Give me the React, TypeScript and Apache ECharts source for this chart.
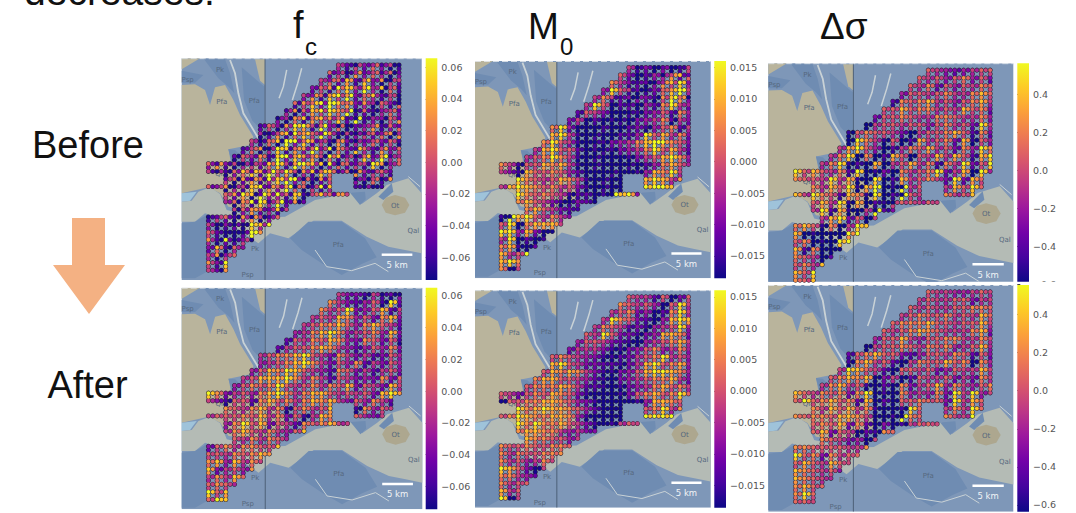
import React, { useEffect, useRef } from "react";
import * as echarts from "echarts";

// Colour bands: each digit of a grid row stands for one of these values.
const FC_BANDS = [-0.07, -0.058, -0.046, -0.034, -0.022, -0.008, 0.01, 0.03, 0.048, 0.065];
const M0_BANDS = [-0.018, -0.015, -0.012, -0.009, -0.006, -0.002, 0.002, 0.007, 0.011, 0.016];
const DS_BANDS = [-0.62, -0.5, -0.39, -0.28, -0.17, -0.04, 0.1, 0.25, 0.4, 0.556];

const FC_TICKS = [-0.06, -0.04, -0.02, 0, 0.02, 0.04, 0.06];
const M0_TICKS = [-0.015, -0.01, -0.005, 0, 0.005, 0.01, 0.015];
const DS_TICKS = [-0.6, -0.4, -0.2, 0, 0.2, 0.4];

// Street-crossing values (one digit per crossing)
const FC_BEFORE = [
  "...............52034150", "..............630425162", ".............5368263705", "............36798574851",
  "...........536797368250", "..........6769986374630", ".........17689975061352", "........047868761014362",
  "......16379956300235162", "......40589763715016374", ".....506899674163025361", "....1570986763974162536",
  "...26471897765983062714", "61350148957988906259736", "5016827569578681604162.", "..2671698590176..03507.",
  "637058926706198..1001..", "..679827968158675......", "..4679916172...........", "...5676285.............",
  "026170516..............", "50300989...............", "6200097................", "719030.................",
  "38163..................", "5736...................", "739....................", "527....................",
];
const M0_BEFORE = [
  "...............50302015", "..............630240582", ".............7531204893", "............49652036795",
  "...........575130317860", "..........5960210427954", ".........26530001346274", "........350201003457253",
  "......79400010023146725", "......89510000224968573", ".....796510013457899763", "....5896620101345796852",
  "...56797510000013568974", "75166878510000000247864", "5318667642000000148795.", "..9765687510000..89857.",
  "589876756310000..9998..", "..976765122010893......", "..7865310320...........", "...7865321.............",
  "108965753..............", "69078885...............", "9948300................", "590201.................",
  "78102..................", "8569...................", "897....................", "705....................",
];
const DS_BEFORE = [
  "...............65434566", "..............656467463", ".............6573646576", "............46656755786",
  "...........276785646785", "..........6686775658673", ".........36676557765574", "........056656646756395",
  "......16766530566786273", "......09751602856738164", ".....589640257685637497", "....5790702860658586289",
  "...57912080568572759369", "96865729013075679358094", "7665958109028567539386.", "..7586918901056..58696.",
  "859762871902065..7568..", "..685918021066565......", "..5928105023...........", "...5893605.............",
  "786170598..............", "80100099...............", "6701099................", "827000.................",
  "76502..................", "6758...................", "869....................", "768....................",
];
const FC_AFTER = [
  "...............53315020", "..............753246192", ".............7569346825", "............56587463783",
  "...........567786478652", "..........4578974567483", ".........26576874376361", "........256678754246473",
  "......56778965375352364", "......45678975364725364", ".....468798654276352563", "....5688897575265343736",
  "...46767965675768365385", "97356478975788656563897", "5316627867578785364752.", "..7657857167568..17465.",
  "566676857361587..6435..", "..479683652767855......", "..5786575468...........", "...6575764.............",
  "367577668..............", "66576787...............", "7848575................", "835647.................",
  "57586..................", "6764...................", "968....................", "698....................",
];
const M0_AFTER = [
  "...............65526036", "..............765640695", ".............5673402795", "............59763204898",
  "...........576523145694", "..........6596331348873", ".........46653210456785", "........355531134674574",
  "......67654311235679564", "......89653322135896784", ".....687875311346899874", "....7886654210345677853",
  "...67778752210134578675", "65367687631000136786796", "0667788764310000148876.", "..9789887642000..67957.",
  "679877887410000..9999..", "..979778653101565......", "..7887754533...........", "...8776645.............",
  "766766776..............", "75766777...............", "7564575................", "986305.................",
  "77542..................", "7566...................", "856....................", "905....................",
];
const DS_AFTER = [
  "...............65544565", "..............565566355", ".............6565566776", "............56766756586",
  "...........677786656685", "..........6567876555783", ".........46685466775575", "........056676576745684",
  "......26786632466576263", "......17856205766867074", ".....598652066563465585", "....6787803502655635375",
  "...57856102073568475467", "86576737901074547395945", "6967867280206676639586.", "..7586857100196..57596.",
  "767768875001076..7559..", "..676837203015665......", "..6836502176...........", "...7653405.............",
  "776666557..............", "96737566...............", "6865865................", "876563.................",
  "87654..................", "7866...................", "796....................", "665....................",
];

// Between-crossing values (the stretch east of and south of each crossing)
const FC_BEFORE_LINKS = [
  "...............41526301", "..............251736403", ".............4627183052", "............25168394061",
  "...........371859264150", "..........1583967240516", ".........40375869120463", "........306175482913057",
  "......25048719360247136", "......02716859401352607", ".....416093825071436250", "....2604817395062841735",
  "...05261938470615283946", "37104526819740362518047", "1403682957041863072541.", "..5027148936025..30614.",
  "250418273960514..1306..", "..527093418065274......", "..3061849205...........", "...0372416.............",
  "152047038..............", "30120847...............", "5100293................", "402150.................",
  "26041..................", "4052...................", "518....................", "406....................",
];
const M0_BEFORE_LINKS = [
  "...............41203015", "..............520134726", ".............6412037584", "............38510126894",
  "...........461203205973", "..........4850120316842", ".........15420010235163", "........240100102346042",
  "......68200010012035614", "......78400100113857462", ".....685300102346897652", "....4785510010234685741",
  "...45686400100002457863", "64055767400100010136753", "4207556531000100037684.", "..8654576400100..78746.",
  "478765645200100..8987..", "..865654011009872......", "..6754201210...........", "...6754210.............",
  "097854642..............", "58067774...............", "8837200................", "480100.................",
  "67001..................", "7458...................", "786....................", "604....................",
];
const DS_BEFORE_LINKS = [
  "...............54323455", "..............545356352", ".............5462535465", "............35545644675",
  "...........165674535674", "..........5575664547562", ".........25565446654463", "........045545535645284",
  "......05655420455675162", "......08640501745627053", ".....478530146574526386", "....4680601750547475178",
  "...46801070457461648258", "85754618002064568247083", "6554847008017456428275.", "..6475807900945..47585.",
  "748651760801954..6457..", "..574807010555454......", "..4817004912...........", "...4782504.............",
  "675060487..............", "70000078...............", "5600088................", "716000.................",
  "65401..................", "5647...................", "758....................", "657....................",
];
const FC_AFTER_LINKS = [
  "...............42204103", "..............642135081", ".............6458235714", "............45476352672",
  "...........456675367541", "..........3467863456372", ".........15465763265250", "........145567643135362",
  "......45667854264241253", "......34567864253614253", ".....357687543165241452", "....4577786464154232625",
  "...35656854564657254274", "86245367864677545452786", "4205516756467674253641.", "..6546746056457..06354.",
  "455565746250476..5324..", "..368572541656744......", "..4675464357...........", "...5464653.............",
  "256466557..............", "55465676...............", "6737464................", "724536.................",
  "46475..................", "5653...................", "857....................", "587....................",
];
const M0_AFTER_LINKS = [
  "...............54415025", "..............654530584", ".............4562301684", "............48652103787",
  "...........465412034583", "..........5485220237762", ".........35542100345674", "........244420023563463",
  "......56543200124568453", "......78542211024785673", ".....576764200235788763", "....6775543100234566742",
  "...56667641100023467564", "54256576520000025675685", "0556677653200000037765.", "..8678776531000..56846.",
  "568766776300000..8888..", "..868667542000454......", "..6776643422...........", "...7665534.............",
  "655655665..............", "64655666...............", "6453464................", "875204.................",
  "66431..................", "6455...................", "745....................", "804....................",
];
const DS_AFTER_LINKS = [
  "...............54433454", "..............454455244", ".............5454455665", "............45655645475",
  "...........566675545574", "..........5456765444672", ".........35574355664464", "........045565465634573",
  "......15675521355465152", "......06745104655756063", ".....487541055452354474", "....5676702401544524264",
  "...46745001062457364356", "75465626800063436284834", "5856756170105565528475.", "..6475746000085..46485.",
  "656657764000965..6448..", "..565726102004554......", "..5725401065...........", "...6542304.............",
  "665555446..............", "85626455...............", "5754754................", "765452.................",
  "76543..................", "6755...................", "685....................", "554....................",
];

// Base-map outlines, in one shared map coordinate system.
const TAN = "#b9b49c";
const BLUE = "#6f8cb2";
const GREY = "#b4bbb5";
const MAP_POLYGONS: any[] = [
  { fill: TAN, pts: [[20, 105], [60, 103], [90, 120], [105, 165], [120, 112], [150, 105], [175, 150], [195, 195], [235, 260], [225, 285], [160, 298], [172, 360], [280, 340], [340, 440], [250, 480], [160, 470], [135, 430], [100, 412], [20, 430]] },
  { fill: TAN, pts: [[20, 25], [75, 25], [20, 58]] },
  { fill: TAN, pts: [[240, 28], [270, 28], [270, 105], [255, 92]] },
  { fill: BLUE, pts: [[85, 25], [150, 28], [165, 70], [178, 130], [160, 110], [130, 85]] },
  { fill: BLUE, pts: [[200, 52], [268, 110], [268, 250], [232, 212], [207, 150]] },
  { fill: BLUE, pts: [[20, 62], [85, 75], [60, 98], [20, 98]] },
  { fill: BLUE, pts: [[160, 298], [180, 300], [200, 320], [172, 342]] },
  { fill: "#9fc3da", pts: [[20, 430], [65, 425], [45, 452], [20, 455]] },
  { fill: GREY, pts: [[20, 455], [50, 452], [70, 425], [105, 412], [135, 432], [155, 480], [250, 503], [330, 500], [420, 450], [530, 428], [560, 462], [605, 430], [635, 405], [700, 385], [740, 430], [740, 610], [690, 600], [640, 590], [575, 560], [500, 512], [415, 512], [340, 565], [285, 550], [250, 580], [150, 510], [90, 490], [60, 515], [20, 515]] },
  { fill: BLUE, pts: [[345, 565], [400, 515], [500, 515], [570, 565], [605, 622], [560, 642], [500, 675], [440, 640], [380, 600]] },
  { fill: BLUE, pts: [[20, 520], [60, 515], [95, 495], [105, 660], [60, 685], [20, 685]] },
  { fill: BLUE, pts: [[525, 428], [570, 425], [572, 448], [555, 465]] },
  { fill: BLUE, pts: [[610, 440], [650, 400], [655, 425], [625, 450]] },
  { fill: "#ada78f", pts: [[620, 465], [632, 443], [660, 435], [690, 443], [703, 465], [690, 488], [660, 496], [632, 488]] },
];
const MAP_RIVERS: any[] = [
  { pts: [[165, 30], [180, 70], [190, 130], [205, 190], [250, 265]], width: 1.8 },
  { pts: [[335, 60], [325, 110], [312, 145]], width: 1.5 },
  { pts: [[380, 55], [368, 100], [352, 150]], width: 1.5 },
  { pts: [[420, 600], [455, 650], [530, 662], [600, 640], [640, 665]], width: 1 },
  { pts: [[700, 380], [735, 410]], width: 1 },
];
const MAP_LABELS: any[] = [
  { text: "Psp", x: 38, y: 90 }, { text: "Pk", x: 135, y: 60 }, { text: "Pfa", x: 140, y: 157 }, { text: "Pfa", x: 238, y: 152 },
  { text: "Ql", x: 132, y: 373 }, { text: "Ot", x: 660, y: 467 }, { text: "Qal", x: 715, y: 543 }, { text: "Pfa", x: 490, y: 585 },
  { text: "Pk", x: 240, y: 597 }, { text: "Psp", x: 218, y: 675 },
];

const PLASMA = ["#0d0887", "#46039f", "#7201a8", "#9c179e", "#bd3786", "#d8576b", "#ed7953", "#fb9f3a", "#fdca26", "#f0f921"];

const PANELS: any[] = [
  { rows: FC_BEFORE, links: FC_BEFORE_LINKS, bands: FC_BANDS, ticks: FC_TICKS, dec: 2, left: 181.7, right: 421.7, top: 58.3, bottom: 280, barL: 425.7, barR: 437.3, barTop: 58.3, barBottom: 280, axMax: 0.0656, axMin: -0.0743, lo: -0.0743, hi: 0.0656, ymax: 690 },
  { rows: M0_BEFORE, links: M0_BEFORE_LINKS, bands: M0_BANDS, ticks: M0_TICKS, dec: 3, left: 475, right: 710.7, top: 61, bottom: 278.3, barL: 714.3, barR: 726, barTop: 61, barBottom: 278.3, axMax: 0.01603, axMin: -0.01857, lo: -0.01857, hi: 0.01603, ymax: 690 },
  { rows: DS_BEFORE, links: DS_BEFORE_LINKS, bands: DS_BANDS, ticks: DS_TICKS, dec: 1, left: 768.3, right: 1013.3, top: 63.3, bottom: 281.7, barL: 1017.3, barR: 1029, barTop: 63.3, barBottom: 293, axMax: 0.5616, axMin: -0.647, lo: -0.588, hi: 0.5616, ymax: 665 },
  { rows: FC_AFTER, links: FC_AFTER_LINKS, bands: FC_BANDS, ticks: FC_TICKS, dec: 2, left: 181.7, right: 422.3, top: 287.7, bottom: 509.3, barL: 425.7, barR: 437.3, barTop: 287.7, barBottom: 509.3, axMax: 0.0652, axMin: -0.0746, lo: -0.0746, hi: 0.0652, ymax: 690 },
  { rows: M0_AFTER, links: M0_AFTER_LINKS, bands: M0_BANDS, ticks: M0_TICKS, dec: 3, left: 475, right: 710.7, top: 290.3, bottom: 507.7, barL: 714.3, barR: 726, barTop: 290.3, barBottom: 507.7, axMax: 0.01603, axMin: -0.01858, lo: -0.01858, hi: 0.01603, ymax: 690 },
  { rows: DS_AFTER, links: DS_AFTER_LINKS, bands: DS_BANDS, ticks: DS_TICKS, dec: 1, left: 768.3, right: 1013.3, top: 285, bottom: 511.7, barL: 1017.3, barR: 1029, barTop: 285, barBottom: 511.7, axMax: 0.556, axMin: -0.636, lo: -0.636, hi: 0.556, ymax: 690 },
];

const colX = (c: number) => 100 + 26 * c;
const rowY = (r: number) => 45 + 22.8 * r;

function streetPoints(p: any): number[][] {
  const out: number[][] = [];
  const has = (c: number, r: number) => !!p.rows[r] && p.rows[r][c] !== undefined && p.rows[r][c] !== ".";
  p.rows.forEach((row: string, r: number) => {
    for (let c = 0; c < row.length; c++) {
      if (row[c] === ".") continue;
      const link = p.links[r][c];
      const lv = p.bands[Number(link === "." ? row[c] : link)];
      if (has(c + 1, r)) out.push([colX(c + 0.5), rowY(r), lv]);
      if (has(c, r + 1)) out.push([colX(c), rowY(r + 0.5), lv]);
      out.push([colX(c), rowY(r), p.bands[Number(row[c])]]);
    }
  });
  return out;
}

function buildOption() {
  const grid: any[] = [];
  const xAxis: any[] = [];
  const yAxis: any[] = [];
  const series: any[] = [];
  const visualMap: any[] = [];

  PANELS.forEach((p, i) => {
    const g = grid.length;
    grid.push({ left: p.left, width: p.right - p.left, top: p.top, height: p.bottom - p.top });
    xAxis.push({ gridIndex: g, type: "value", min: 20, max: 740, show: false });
    yAxis.push({ gridIndex: g, type: "value", min: 25, max: p.ymax, inverse: true, show: false });

    // base map
    const shapes = [
      { kind: "bg" },
      ...MAP_POLYGONS.map((s) => ({ kind: "poly", ...s })),
      ...MAP_RIVERS.map((s) => ({ kind: "river", ...s })),
      { kind: "fault" },
      { kind: "edge" },
      ...MAP_LABELS.map((s) => ({ kind: "label", ...s })),
      { kind: "scale" },
      { kind: "scaleText" },
    ];
    series.push({
      type: "custom",
      xAxisIndex: g,
      yAxisIndex: g,
      clip: true,
      silent: true,
      name: `map${i}`,
      data: shapes.map((_, k) => [k]),
      renderItem: (_: any, api: any) => {
        const s: any = shapes[api.value(0)];
        const pts = (a: number[][]) => a.map((q) => api.coord(q));
        if (s.kind === "bg") return { type: "polygon", shape: { points: pts([[20, 25], [740, 25], [740, 690], [20, 690]]) }, style: { fill: "#7e97b8" } };
        if (s.kind === "poly") return { type: "polygon", shape: { points: pts(s.pts) }, style: { fill: s.fill } };
        if (s.kind === "river") return { type: "polyline", shape: { points: pts(s.pts) }, style: { stroke: "#c9d2d6", lineWidth: s.width, fill: "none" } };
        if (s.kind === "fault") return { type: "polyline", shape: { points: pts([[270, 25], [270, 690]]) }, style: { stroke: "#4d6078", lineWidth: 1, fill: "none" } };
        if (s.kind === "edge") return { type: "polyline", shape: { points: pts([[20, 26], [740, 26]]) }, style: { stroke: "#e8ecef", lineWidth: 1, lineDash: [6, 3], fill: "none" } };
        if (s.kind === "scale") return { type: "polyline", shape: { points: pts([[620, 614], [712, 614]]) }, style: { stroke: "#ffffff", lineWidth: 2.5, fill: "none" } };
        const q = s.kind === "scaleText" ? api.coord([666, 645]) : api.coord([s.x, s.y]);
        return {
          type: "text",
          style: {
            x: q[0], y: q[1], text: s.kind === "scaleText" ? "5 km" : s.text, align: "center", verticalAlign: "middle",
            fontFamily: "DejaVu Sans", fontSize: s.kind === "scaleText" ? 8.5 : 7, fill: s.kind === "scaleText" ? "#f2f4f6" : "#56687e",
          },
        };
      },
    });

    // street values
    const data = streetPoints(p);
    series.push({
      type: "scatter",
      name: `casing${i}`,
      xAxisIndex: g,
      yAxisIndex: g,
      silent: true,
      symbolSize: 5,
      itemStyle: { color: "#2a2438", opacity: 1 },
      data: data.map((d) => [d[0], d[1]]),
    });
    visualMap.push({ show: false, type: "continuous", dimension: 2, seriesIndex: series.length, min: p.lo, max: p.hi, inRange: { color: PLASMA } });
    series.push({
      type: "scatter",
      name: `streets${i}`,
      xAxisIndex: g,
      yAxisIndex: g,
      silent: true,
      symbolSize: 3.9,
      itemStyle: { opacity: 1 },
      data,
    });

    // colour bar
    const b = grid.length;
    grid.push({ left: p.barL, width: p.barR - p.barL, top: p.barTop, height: p.barBottom - p.barTop });
    xAxis.push({ gridIndex: b, type: "value", min: 0, max: 1, show: false });
    yAxis.push({
      gridIndex: b,
      type: "value",
      position: "right",
      min: p.axMin,
      max: p.axMax,
      axisLine: { show: false },
      splitLine: { show: false },
      axisTick: { show: true, length: 3, customValues: p.ticks, lineStyle: { color: "#444", width: 1 } },
      axisLabel: {
        show: true,
        customValues: p.ticks,
        margin: 4,
        color: "#555",
        fontFamily: "DejaVu Sans",
        fontSize: 9.5,
        formatter: (v: number) => (v < 0 ? "\u2212" : "") + Math.abs(v).toFixed(p.dec),
      },
    });
    series.push({
      type: "custom",
      name: `bar${i}`,
      xAxisIndex: b,
      yAxisIndex: b,
      silent: true,
      data: [[p.lo, p.hi]],
      renderItem: (_: any, api: any) => {
        const a = api.coord([0, api.value(1)]);
        const z = api.coord([1, api.value(0)]);
        return {
          type: "rect",
          shape: { x: a[0], y: a[1], width: z[0] - a[0], height: z[1] - a[1] },
          style: {
            fill: new echarts.graphic.LinearGradient(0, 1, 0, 0, PLASMA.map((color, k) => ({ offset: k / (PLASMA.length - 1), color }))),
          },
        };
      },
    });
  });

  const slide = { fontFamily: "Liberation Sans", fill: "#111" };
  const txt = (text: string, x: number, y: number, fontSize: number, align = "left") => ({
    type: "text",
    z: 20,
    style: { ...slide, text, x, y, fontSize, align, verticalAlign: "middle" },
  });

  const graphic = [
    { type: "rect", z: 10, shape: { x: 1030, y: 281.7, width: 46, height: 11 }, style: { fill: "#fff" } },
    txt("decreases.", 24, -9, 39),
    txt("Before", 88, 145, 38, "center"),
    txt("After", 87.5, 385, 38, "center"),
    txt("f", 293, 25, 38),
    txt("c", 305, 46, 24),
    txt("M", 528, 26, 37),
    txt("0", 560, 46, 24),
    txt("\u0394\u03c3", 820, 26, 37),
    {
      type: "polygon",
      z: 20,
      shape: { points: [[72, 218], [105, 218], [105, 265], [125, 265], [89, 314], [53, 265], [72, 265]] },
      style: { fill: "#f4b183" },
    },
  ];

  return { animation: false, backgroundColor: "#fff", grid, xAxis, yAxis, series, visualMap, graphic };
}

export default function App() {
  const ref = useRef<HTMLDivElement>(null);
  useEffect(() => {
    document.body.style.margin = "0";
    const chart = echarts.init(ref.current!, null, { renderer: "svg" });
    chart.setOption(buildOption() as any);
    return () => chart.dispose();
  }, []);
  return <div ref={ref} style={{ width: 1076, height: 513 }} />;
}
